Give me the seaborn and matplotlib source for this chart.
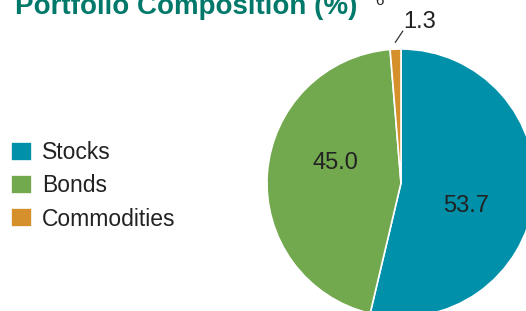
import numpy as np
import matplotlib
matplotlib.use("Agg")
from matplotlib import pyplot as plt
import seaborn as sns

categories = ["Stocks", "Bonds", "Commodities"]
values = [53.7, 45.0, 1.3]
colors = ["#0090aa", "#72a84e", "#d58f2b"]
title = "Portfolio Composition (%)"
footnote_mark = "6"

W, H = 526, 311
CX, CY, R = 401, 183, 134  # pie centre / radius in pixels (from top-left)


def main():
    sns.set_theme(style="white")
    plt.rcParams["font.family"] = ["Liberation Sans", "DejaVu Sans"]

    fig = plt.figure(figsize=(W / 100, H / 100), dpi=100)
    ax = fig.add_axes([0, 0, 1, 1])
    ax.set_axis_off()

    wedges, _ = ax.pie(values, colors=colors, startangle=90, counterclock=False,
                       radius=1, wedgeprops=dict(edgecolor="white", linewidth=1.2))
    ax.set_aspect("auto")
    ax.set_xlim(-CX / R, (W - CX) / R)
    ax.set_ylim(-(H - CY) / R, CY / R)

    # value labels
    for w, v in zip(wedges, values):
        mid = np.deg2rad((w.theta1 + w.theta2) / 2)
        if v < 5:
            x0, y0 = np.cos(mid) * 1.05, np.sin(mid) * 1.05
            x1, y1 = np.cos(mid) * 1.135 + 0.06, np.sin(mid) * 1.135
            ax.plot([x0, x1], [y0, y1], color="#333333", lw=0.9)
            ax.text(x1 + 0.128, y1 + 0.07, f"{v:.1f}", fontsize=17, color="#222222",
                    ha="center", va="center")
        else:
            a = mid - np.deg2rad(12.5)
            ax.text(np.cos(a) * 0.515, np.sin(a) * 0.515, f"{v:.1f}", fontsize=17,
                    color="#222222", ha="center", va="center")

    fig.text(15 / W, 1 - 13.5 / H, title, fontsize=20, fontweight="bold",
             color="#00786a", ha="left", va="baseline")
    fig.text(375 / W, 1 - 5 / H, footnote_mark, fontsize=11, color="#222222",
             ha="left", va="baseline")

    fig.legend(wedges, categories, loc="center left", bbox_to_anchor=(-0.009, 0.402),
               frameon=False, fontsize=16.5, handlelength=0.92, handleheight=0.92,
               handletextpad=0.43, labelspacing=0.44, borderpad=0.2,
               labelcolor="#222222")

    fig.savefig("out.png", dpi=100)


if __name__ == "__main__":
    main()
